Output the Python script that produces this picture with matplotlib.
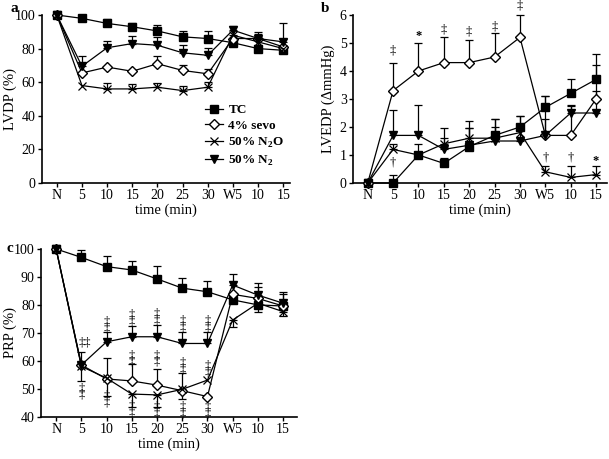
import numpy as np
import matplotlib.pyplot as plt

plt.rcParams['font.family'] = ['Liberation Serif', 'DejaVu Serif']
plt.rcParams['mathtext.fontset'] = 'custom'
plt.rcParams['mathtext.rm'] = 'Liberation Serif'
plt.rcParams['mathtext.bf'] = 'Liberation Serif:bold'

times = ['N', '5', '10', '15', '20', '25', '30', 'W5', '10', '15']
groups = ['TC', '4% sevo', r'50% N$_\mathbf{2}$O', r'50% N$_\mathbf{2}$']

# ---- panel a: LVDP (%) ----
lvdp_tc = [100, 98, 95, 93, 90.5, 87, 86, 83.5, 80, 79]
lvdp_tc_up = [0, 1, 2.5, 2.5, 3.5, 3.5, 4.5, 0, 2, 2]
lvdp_sevo = [100, 65.5, 69, 66.5, 71, 67, 65, 86, 86, 81]
lvdp_sevo_up = [0, 0, 0, 0, 4.5, 3, 3, 2, 4, 5]
lvdp_n2o = [100, 58, 56, 56, 57, 55, 57, 88, 84, 80]
lvdp_n2o_up = [0, 0, 3.5, 2.8, 2.8, 3, 3, 0, 0, 0]
lvdp_n2 = [100, 69.5, 80.5, 83, 82, 77.5, 76, 91, 86, 84]
lvdp_n2_up = [0, 6, 4, 4.5, 5, 4.5, 4.5, 2.5, 2.5, 11]

# ---- panel b: LVEDP (delta mmHg) ----
lvedp_tc = [0, 0, 1.0, 0.7, 1.3, 1.7, 2.0, 2.7, 3.2, 3.7]
lvedp_tc_up = [0, 0.3, 0.4, 0.18, 0.65, 0.6, 0.4, 0.4, 0.5, 0.9]
lvedp_sevo = [0, 3.3, 4.0, 4.3, 4.3, 4.5, 5.2, 1.7, 1.7, 3.0]
lvedp_sevo_up = [0, 1.0, 1.0, 0.9, 0.8, 0.85, 0.8, 0.6, 1.05, 0.3]
lvedp_n2o = [0, 1.2, 1.0, 1.4, 1.6, 1.6, 1.8, 0.4, 0.2, 0.3]
lvedp_n2o_up = [0, 0.2, 0, 0.55, 0.6, 0.4, 0, 0.22, 0.42, 0.32]
lvedp_n2 = [0, 1.7, 1.7, 1.2, 1.35, 1.5, 1.5, 1.7, 2.5, 2.5]
lvedp_n2_up = [0, 0.9, 1.08, 0.4, 0.6, 0.8, 0.9, 1.4, 0.3, 1.7]

# ---- panel c: PRP (%) ----
prp_tc = [100, 97, 93.7, 92.5, 89.3, 86, 84.7, 81.8, 80, 79.6]
prp_tc_up = [0, 2.7, 3.8, 3.3, 4.5, 3.5, 4.0, 0, 0, 0]
prp_tc_lo = [0, 0, 0, 0, 0, 0, 0, 0, 2.4, 0]
prp_sevo = [100, 58.5, 53.5, 52.8, 51.3, 49.3, 47.2, 83.8, 82.3, 79.6]
prp_sevo_up = [0, 4.5, 7.4, 6, 5.7, 6.5, 0, 0, 4, 4.2]
prp_sevo_lo = [0, 0, 0, 0, 0, 0, 0, 0, 0, 0]
prp_n2o = [100, 58, 53.8, 48.1, 47.8, 49.8, 53.1, 74.6, 80.6, 77.6]
prp_n2o_up = [0, 0, 0, 0, 0, 0, 0, 0, 0, 0]
prp_n2o_lo = [0, 5.2, 6.3, 4.5, 4.2, 3.5, 0, 2.6, 0, 1.6]
prp_n2 = [100, 58.5, 66.8, 68.6, 68.6, 66.2, 66.2, 87.1, 83.5, 80.6]
prp_n2_up = [0, 0, 3.6, 3.8, 4.2, 4.2, 4.2, 3.8, 4.2, 4.1]
prp_n2_lo = [0, 0, 0, 0, 0, 0, 0, 0, 0, 0]

# significance symbols: (time index, y, symbol)
sig_b = [(1, 4.75, '‡'), (2, 5.25, '*'), (3, 5.5, '‡'), (4, 5.4, '‡'),
         (5, 5.6, '‡'), (6, 6.35, '‡'), (1, 0.72, '†'), (7, 0.92, '†'),
         (8, 0.92, '†'), (9, 0.8, '*')]
sig_c = [(1.15, 66.6, '‡‡'),
         (2, 74.2, '‡'), (2, 71.6, '‡'), (3, 76.4, '‡'), (3, 74.0, '‡'),
         (4, 76.8, '‡'), (4, 74.4, '‡'), (5, 74.4, '‡'), (5, 72.0, '‡'),
         (6, 74.4, '‡'), (6, 72.0, '‡'),
         (3, 62.0, '‡'), (3, 59.6, '‡'), (4, 62.0, '‡'), (4, 59.6, '‡'),
         (5, 59.4, '‡'), (5, 57.0, '‡'), (6, 58.2, '‡'), (6, 55.8, '‡'),
         (1, 50.2, '‡'), (1, 47.8, '‡'), (2, 47.6, '‡'), (2, 45.2, '‡'),
         (3, 44.0, '‡'), (3, 41.6, '‡'), (4, 43.6, '‡'), (4, 41.2, '‡'),
         (5, 43.6, '‡'), (5, 41.2, '‡'), (6, 43.6, '‡'), (6, 41.2, '‡')]

styles = [dict(marker='s', mfc='black', ms=5.5),
          dict(marker='D', mfc='white', ms=5.5),
          dict(marker='x', mfc='black', ms=5.5, mew=0.9),
          dict(marker='v', mfc='black', ms=6)]


def errbars(ax, x, y, up, lo=None):
    x = np.asarray(x); y = np.asarray(y); up = np.asarray(up, float)
    m = up > 0
    ax.errorbar(x[m], y[m], yerr=[np.zeros(m.sum()), up[m]], fmt='none',
                ecolor='black', elinewidth=0.9, capsize=3, capthick=0.9,
                clip_on=False)
    if lo is not None:
        lo = np.asarray(lo, float)
        m = lo > 0
        ax.errorbar(x[m], y[m], yerr=[lo[m], np.zeros(m.sum())], fmt='none',
                    ecolor='black', elinewidth=0.9, capsize=3, capthick=0.9,
                    clip_on=False)


def panel(ax, series, ups, los, ylim, yticks, ylabel, xlim, ylab_x):
    x = np.arange(len(times))
    for i, (s, st) in enumerate(zip(series, styles)):
        errbars(ax, x, s, ups[i], los[i] if los else None)
    for s, st, lab in zip(series, styles, groups):
        ax.plot(x, s, color='black', lw=0.9, mec='black', label=lab,
                clip_on=False, zorder=3, **st)
    ax.set_xlim(*xlim)
    ax.set_ylim(*ylim)
    ax.set_yticks(yticks)
    ax.set_xticks(x)
    ax.set_xticklabels(times)
    ax.spines['top'].set_visible(False)
    ax.spines['right'].set_visible(False)
    ax.spines['left'].set_linewidth(1.2)
    ax.spines['bottom'].set_linewidth(1.2)
    ax.tick_params(labelsize=10, length=3, width=1, pad=1.5)
    ax.set_xlabel('time (min)', fontsize=10.5, labelpad=1)
    ax.set_ylabel(ylabel, fontsize=10.5)
    ax.yaxis.set_label_coords(ylab_x, 0.5)


fig = plt.figure(figsize=(6.09, 4.59), dpi=100)
W, H = 609.0, 459.0
ax_a = fig.add_axes([41.7 / W, 1 - 183 / H, (290 - 41.7) / W, 168 / H])
ax_b = fig.add_axes([353 / W, 1 - 183 / H, (607 - 353) / W, 168 / H])
ax_c = fig.add_axes([41 / W, 1 - 416.7 / H, (297 - 41) / W, 167.7 / H])

panel(ax_a, [lvdp_tc, lvdp_sevo, lvdp_n2o, lvdp_n2],
      [lvdp_tc_up, lvdp_sevo_up, lvdp_n2o_up, lvdp_n2_up], None,
      (0, 100), np.arange(0, 101, 20), 'LVDP (%)', (-0.6, 9.27), -0.1)
panel(ax_b, [lvedp_tc, lvedp_sevo, lvedp_n2o, lvedp_n2],
      [lvedp_tc_up, lvedp_sevo_up, lvedp_n2o_up, lvedp_n2_up], None,
      (0, 6), np.arange(0, 7, 1), 'LVEDP (ΔmmHg)', (-0.58, 9.43), -0.071)
panel(ax_c, [prp_tc, prp_sevo, prp_n2o, prp_n2],
      [prp_tc_up, prp_sevo_up, prp_n2o_up, prp_n2_up],
      [prp_tc_lo, prp_sevo_lo, prp_n2o_lo, prp_n2_lo],
      (40, 100), np.arange(40, 101, 10), 'PRP (%)', (-0.6, 9.55), -0.094)

for ax, sig in [(ax_b, sig_b), (ax_c, sig_c)]:
    for xi, yv, sym in sig:
        ax.text(xi, yv, sym, ha='center', va='center', fontsize=9,
                fontweight='bold' if sym == '*' else 'normal', clip_on=False)

leg = ax_a.legend(loc='upper left', bbox_to_anchor=(0.63, 0.51), frameon=False,
                  prop={'weight': 'bold', 'size': 9.5}, handlelength=1.4,
                  handletextpad=0.4, labelspacing=0.28, borderpad=0)

fig.text(14 / W, 1 - 8 / H, 'a', fontsize=11, fontweight='bold', va='center', ha='center')
fig.text(325 / W, 1 - 8 / H, 'b', fontsize=11, fontweight='bold', va='center', ha='center')
fig.text(10 / W, 1 - 249 / H, 'c', fontsize=11, fontweight='bold', va='center', ha='center')

plt.savefig('out.png', dpi=100)
